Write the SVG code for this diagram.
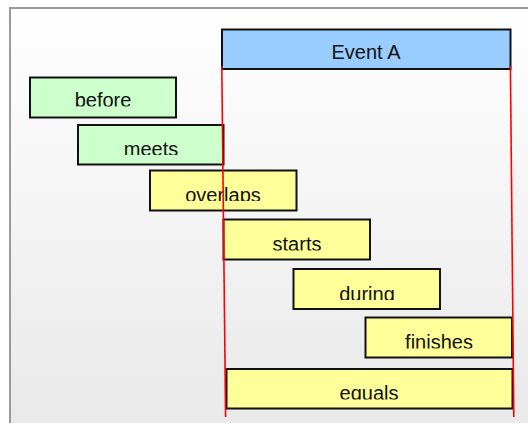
<svg xmlns="http://www.w3.org/2000/svg" width="528" height="423" viewBox="0 0 528 423">
<style>
.box{stroke:#111;stroke-width:2}
.g{fill:#ccffcc}.y{fill:#ffff99}.b{fill:#99ccff}
text{font-family:"Liberation Sans",Arial,sans-serif;font-size:20px;fill:#111;text-anchor:middle}
.red{stroke:#ff0000;stroke-width:1.6;fill:none}
</style>
<defs>
<linearGradient id="bg" x1="0" y1="0" x2="0" y2="1">
<stop offset="0" stop-color="#ffffff"/>
<stop offset="1" stop-color="#e8e8e8"/>
</linearGradient>
<clipPath id="cBefore"><rect x="0" y="0" width="528" height="106.5"/></clipPath>
<clipPath id="cMeets"><rect x="0" y="0" width="528" height="155"/></clipPath>
<clipPath id="cOverlaps"><rect x="0" y="0" width="528" height="201"/></clipPath>
<clipPath id="cStarts"><rect x="0" y="0" width="528" height="250.5"/></clipPath>
<clipPath id="cDuring"><rect x="0" y="0" width="528" height="300"/></clipPath>
<clipPath id="cFinishes"><rect x="0" y="0" width="528" height="348.5"/></clipPath>
<clipPath id="cEquals"><rect x="0" y="0" width="528" height="399.5"/></clipPath>
</defs>
<rect x="0" y="0" width="528" height="423" fill="#ffffff"/>
<rect x="10" y="8" width="530" height="430" fill="url(#bg)" stroke="#9a9a9a" stroke-width="2"/>

<g id="eventA">
<rect class="box b" x="222" y="29.5" width="288.5" height="39.5"/>
<text x="366" y="59">Event A</text>
</g>
<g id="before">
<rect class="box g" x="30" y="77.5" width="146" height="40"/>
<text x="103" y="107" clip-path="url(#cBefore)">before</text>
</g>
<g id="meets">
<rect class="box g" x="78" y="125" width="145.5" height="39.5"/>
<text x="151" y="155.5" clip-path="url(#cMeets)">meets</text>
</g>
<g id="overlaps">
<rect class="box y" x="150" y="170.5" width="146.5" height="40"/>
<text x="223" y="201.5" clip-path="url(#cOverlaps)">overlaps</text>
</g>
<g id="starts">
<rect class="box y" x="223.5" y="219.5" width="146.5" height="40"/>
<text x="297" y="251" clip-path="url(#cStarts)">starts</text>
</g>
<g id="during">
<rect class="box y" x="293.5" y="269" width="146.5" height="40"/>
<text x="367" y="300.5" clip-path="url(#cDuring)">during</text>
</g>
<g id="finishes">
<rect class="box y" x="365.5" y="317.5" width="146.5" height="40"/>
<text x="439" y="349" clip-path="url(#cFinishes)">finishes</text>
</g>
<g id="equals">
<rect class="box y" x="226.5" y="369" width="286" height="39.5"/>
<text x="369" y="400" clip-path="url(#cEquals)">equals</text>
</g>

<g id="connectors">
<line class="red" x1="221.8" y1="66" x2="225.6" y2="417"/>
<line class="red" x1="510.4" y1="66" x2="513.8" y2="417"/>
</g>
</svg>
